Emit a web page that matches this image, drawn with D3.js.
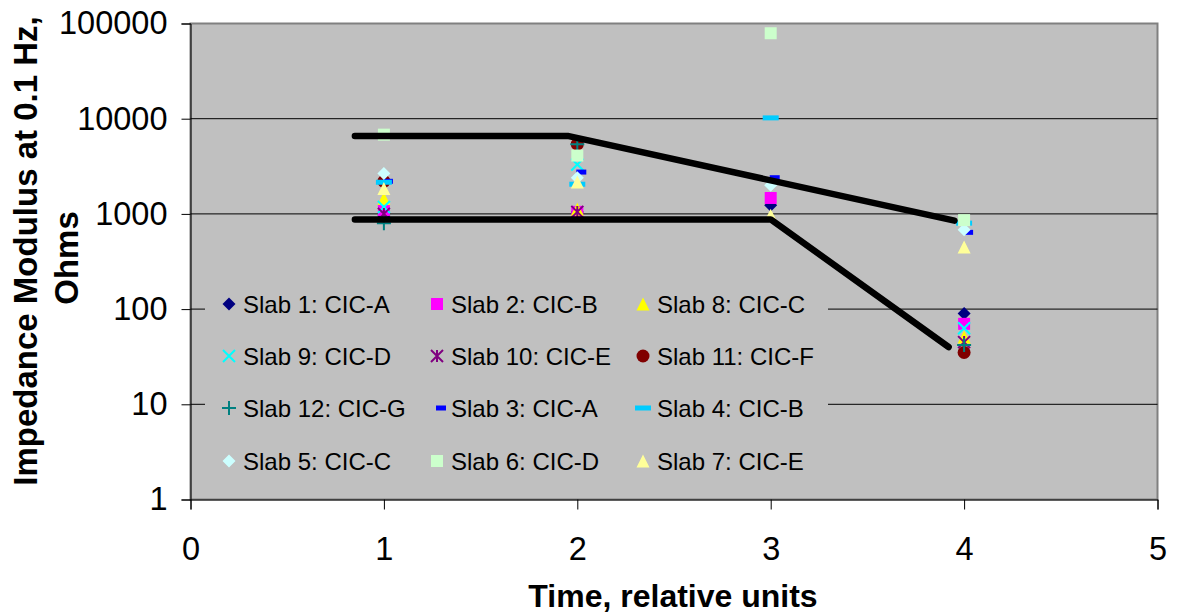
<!DOCTYPE html>
<html>
<head>
<meta charset="utf-8">
<script src="https://cdn.jsdelivr.net/npm/d3@7"></script>
<style>
body { margin: 0; background: #fff; }
text { font-family: Arial, "Liberation Sans", sans-serif; fill: #000; }
</style>
</head>
<body>
<svg id="chart" width="1177" height="615"></svg>
<script>
// data (null = no point)
var times = [1, 2, 3, 4];
var slabNames = ["Slab 1: CIC-A", "Slab 2: CIC-B", "Slab 8: CIC-C",
                 "Slab 9: CIC-D", "Slab 10: CIC-E", "Slab 11: CIC-F",
                 "Slab 12: CIC-G", "Slab 3: CIC-A", "Slab 4: CIC-B",
                 "Slab 5: CIC-C", "Slab 6: CIC-D", "Slab 7: CIC-E"];
var slab1  = [950, 1050, 1230, 90];
var slab2  = [1100, 1050, 1470, 70];
var slab8  = [1450, 1120, null, 51];
var slab9  = [1180, 3300, null, 63];
var slab10 = [1000, 1050, null, 45];
var slab11 = [2200, 5400, null, 35];
var slab12 = [800, 5400, null, 42];
var slab3  = [2200, 2750, 2400, 640];
var slab4  = [2150, 2050, 10200, 800];
var slab5  = [2650, 2400, 2000, 680];
var slab6  = [6800, 4100, 79000, 860];
var slab7  = [1850, 2160, 970, 450];
var slabValues = [slab1, slab2, slab8, slab9, slab10, slab11, slab12, slab3, slab4, slab5, slab6, slab7];

var upperLineX = [0.85, 1.95, 3.95];
var upperLineY = [6600, 6600, 850];
var lowerLineX = [0.85, 3.0, 3.92];
var lowerLineY = [875, 875, 40];

var xTicks = [0, 1, 2, 3, 4, 5];
var yTicks = [1, 10, 100, 1000, 10000, 100000];

// marker look per series, same order as slabNames
var markerKind  = ["diamond", "square", "triangle", "times", "asterisk", "circle",
                   "plus", "shortDash", "longDash", "diamond", "square", "triangle"];
var markerColor = ["#000080", "#FF00FF", "#FFFF00", "#00FFFF", "#800080", "#800000",
                   "#008080", "#0000FF", "#00CCFF", "#CCFFFF", "#CCFFCC", "#FFFF99"];

var svg = d3.select("#chart");

var x = d3.scaleLinear().domain([0, 5]).range([190.5, 1157.5]);
var y = d3.scaleLog().domain([1, 100000]).range([499.5, 23.5]);

// custom marker shapes, size = width in px
var shapes = {
  diamond: { draw: function(c, s){ var r = s/2; c.moveTo(0,-r); c.lineTo(r,0); c.lineTo(0,r); c.lineTo(-r,0); c.closePath(); } },
  square: { draw: function(c, s){ var r = s/2; c.rect(-r,-r,s,s); } },
  triangle: { draw: function(c, s){ var r = s/2; c.moveTo(0,-r); c.lineTo(r,r); c.lineTo(-r,r); c.closePath(); } },
  circle: { draw: function(c, s){ c.moveTo(s/2,0); c.arc(0,0,s/2,0,2*Math.PI); } },
  times: { draw: function(c, s){ var r = s/2; c.moveTo(-r,-r); c.lineTo(r,r); c.moveTo(r,-r); c.lineTo(-r,r); } },
  asterisk: { draw: function(c, s){ var r = s/2; c.moveTo(-r,-r); c.lineTo(r,r); c.moveTo(r,-r); c.lineTo(-r,r); c.moveTo(0,-r); c.lineTo(0,r); } },
  plus: { draw: function(c, s){ var r = s/2; c.moveTo(-r,0); c.lineTo(r,0); c.moveTo(0,-r); c.lineTo(0,r); } },
  shortDash: { draw: function(c, s){ c.rect(-1,-2.5,10,5); } },
  longDash: { draw: function(c, s){ c.rect(-8,-2.5,16,5); } }
};
var markerSize = { diamond: 13, square: 12, triangle: 13, circle: 13, times: 12, asterisk: 12, plus: 14, shortDash: 10, longDash: 16 };
var stroked = { times: true, asterisk: true, plus: true };

function drawMarker(sel, kind, color){
  sel.attr("d", d3.symbol().type(shapes[kind]).size(markerSize[kind]))
    .attr("fill", stroked[kind] ? "none" : color)
    .attr("stroke", stroked[kind] ? color : "none")
    .attr("stroke-width", 2);
}

// plot area
svg.append("rect")
  .attr("x", x(0)).attr("y", y(100000))
  .attr("width", x(5) - x(0)).attr("height", y(1) - y(100000))
  .attr("fill", "#C0C0C0")
  .attr("stroke", "#808080").attr("stroke-width", 2);

// gridlines
svg.append("g").selectAll("line")
  .data(yTicks.slice(1, 5))
  .enter().append("line")
  .attr("x1", x(0)).attr("x2", x(5))
  .attr("y1", function(d){ return y(d); })
  .attr("y2", function(d){ return y(d); })
  .attr("stroke", "#000").attr("stroke-width", 1);

// axes
var yAxis = svg.append("g")
  .attr("transform", "translate(" + x(0) + ",0)")
  .call(d3.axisLeft(y).tickValues(yTicks).tickFormat(d3.format("d")).tickSize(9).tickPadding(14));
var xAxis = svg.append("g")
  .attr("transform", "translate(0," + y(1) + ")")
  .call(d3.axisBottom(x).tickValues(xTicks).tickFormat(d3.format("d")).tickSize(10).tickPadding(27));
[yAxis, xAxis].forEach(function(a){
  a.selectAll("text").style("font-size", "32.5px").attr("fill", "#000");
  a.selectAll("line").attr("stroke", "#000");
  a.select(".domain").attr("stroke", "#000");
});

// legend box covers the gridlines
var legendCols = [229, 437, 643];
var legendRows = [304, 356, 408, 461];
svg.append("rect")
  .attr("x", 205).attr("y", 282).attr("width", 623).attr("height", 203)
  .attr("fill", "#C0C0C0");

// points
slabValues.forEach(function(vals, i){
  var pts = vals.map(function(v, j){ return [times[j], v]; })
    .filter(function(p){ return p[1] != null; });
  svg.append("g").selectAll("path")
    .data(pts)
    .enter().append("path")
    .attr("transform", function(d){ return "translate(" + x(d[0]) + "," + y(d[1]) + ")"; })
    .call(drawMarker, markerKind[i], markerColor[i]);
});

// black trend lines over the points
var line = d3.line()
  .x(function(d){ return x(d[0]); })
  .y(function(d){ return y(d[1]); });
[[upperLineX, upperLineY], [lowerLineX, lowerLineY]].forEach(function(l){
  svg.append("path")
    .datum(l[0].map(function(v, j){ return [v, l[1][j]]; }))
    .attr("d", line)
    .attr("fill", "none")
    .attr("stroke", "#000")
    .attr("stroke-width", 6.5)
    .attr("stroke-linecap", "round")
    .attr("stroke-linejoin", "round");
});

// legend entries
var legend = svg.append("g").selectAll("g")
  .data(slabNames)
  .enter().append("g")
  .attr("transform", function(d, i){
    return "translate(" + legendCols[i % 3] + "," + legendRows[Math.floor(i / 3)] + ")";
  });
legend.append("path").each(function(d, i){
  d3.select(this).call(drawMarker, markerKind[i], markerColor[i]);
});
legend.append("text")
  .attr("x", 14)
  .attr("dy", "0.36em")
  .style("font-size", "24px")
  .text(function(d){ return d; });

// axis titles
svg.append("text")
  .attr("x", 673).attr("y", 607)
  .attr("text-anchor", "middle")
  .style("font-size", "32px").style("font-weight", "bold")
  .text("Time, relative units");
var yTitle = svg.append("text")
  .attr("transform", "rotate(-90)")
  .attr("text-anchor", "middle")
  .style("font-size", "33px").style("font-weight", "bold");
yTitle.append("tspan").attr("x", -251).attr("y", 37).text("Impedance Modulus at 0.1 Hz,");
yTitle.append("tspan").attr("x", -258).attr("y", 78).text("Ohms");
</script>
</body>
</html>
